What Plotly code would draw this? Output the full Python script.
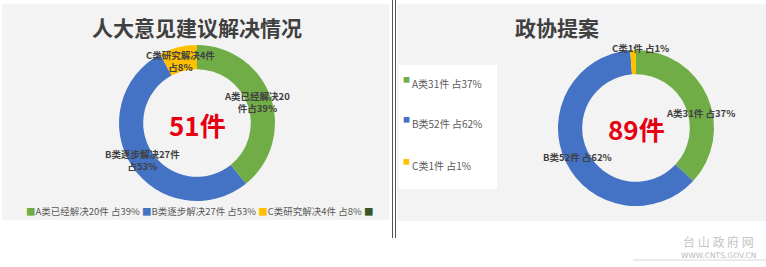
import plotly.graph_objects as go

W, H = 766, 267

# ---------------- data ----------------
left_title = "人大意见建议解决情况"
left_cats = ["A类已经解决", "B类逐步解决", "C类研究解决"]
left_counts = [20, 27, 4]
left_pcts = [39, 53, 8]
left_total = 51
left_slice_text = ["A类已经解决20<br>件占39%", "B类逐步解决27件<br>占53%", "C类研究解决4件<br>占8%"]

right_title = "政协提案"
right_cats = ["A类", "B类", "C类"]
right_counts = [31, 52, 1]
right_pcts = [37, 62, 1]
right_total = 89

colors = ["#70AD47", "#4472C4", "#FFC000"]
extra_legend_color = "#375623"

FONT = "Noto Sans CJK SC"


def px(x):
    return x / W


def py(y):
    return 1 - y / H


fig = go.Figure()

# Left donut
fig.add_trace(go.Pie(
    labels=left_cats, values=left_counts, sort=False, direction="clockwise",
    rotation=0, hole=0.69, textinfo="none", showlegend=False,
    marker=dict(colors=colors, line=dict(width=0)),
    domain=dict(x=[px(119), px(275)], y=[py(201), py(45)]),
))

# Right donut
fig.add_trace(go.Pie(
    labels=right_cats, values=right_counts, sort=False, direction="clockwise",
    rotation=0, hole=0.69, textinfo="none", showlegend=False,
    marker=dict(colors=colors, line=dict(width=0)),
    domain=dict(x=[px(558), px(714)], y=[py(206), py(50)]),
))

shapes = [
    # panel backgrounds
    dict(type="rect", xref="paper", yref="paper", x0=px(2), x1=px(389), y0=py(220), y1=py(4),
         fillcolor="#f3f3f3", line=dict(width=0), layer="below"),
    dict(type="rect", xref="paper", yref="paper", x0=px(397), x1=px(766), y0=py(221), y1=py(4),
         fillcolor="#f3f3f3", line=dict(width=0), layer="below"),
    # right legend box
    dict(type="rect", xref="paper", yref="paper", x0=px(399), x1=px(497), y0=py(189), y1=py(65),
         fillcolor="#ffffff", line=dict(width=0), layer="below"),
    # double divider
    dict(type="line", xref="paper", yref="paper", x0=px(392.5), x1=px(392.5), y0=py(238), y1=py(0),
         line=dict(color="#555555", width=1)),
    dict(type="line", xref="paper", yref="paper", x0=px(395.5), x1=px(395.5), y0=py(238), y1=py(0),
         line=dict(color="#555555", width=1)),
    # watermark underline
    dict(type="line", xref="paper", yref="paper", x0=px(633), x1=px(766), y0=py(260), y1=py(260),
         line=dict(color="#d8d8d8", width=1)),
]

ann = []


def add(text, x, y, size, color, xanchor="center", family=FONT, align="center"):
    ann.append(dict(text=text, x=px(x), y=py(y), xref="paper", yref="paper",
                    xanchor=xanchor, yanchor="middle", showarrow=False, align=align,
                    font=dict(family=family, size=size, color=color)))


# titles
add(f"<b>{left_title}</b>", 197, 27, 21, "#404040")
add(f"<b>{right_title}</b>", 557, 27, 21, "#404040")
# centre totals
add(f"<b>{left_total}件</b>", 197, 124, 26, "#E60012")
add(f"<b>{right_total}件</b>", 636, 128, 26, "#E60012")

# left data labels
left_label_pos = [(257, 102), (142, 160), (180, 61)]
for t, (lx, ly) in zip(left_slice_text, left_label_pos):
    add(f"<b>{t}</b>", lx, ly, 9.5, "#404040")

# right data labels
right_label_pos = [(700, 113), (577, 157), (640, 48)]
for c, n, p, (lx, ly) in zip(right_cats, right_counts, right_pcts, right_label_pos):
    add(f"<b>{c}{n}件 占{p}%</b>", lx, ly, 9.5, "#404040")

# left legend (horizontal, bottom)
parts = []
for c, n, p, col in zip(left_cats, left_counts, left_pcts, colors):
    parts.append(f"<span style='color:{col}'>■</span>{c}{n}件 占{p}%")
parts.append(f"<span style='color:{extra_legend_color}'>■</span>")
add(" ".join(parts), 24, 211, 9.5, "#595959", xanchor="left")

# right legend (vertical)
right_leg_y = [83, 123, 165]
for c, n, p, col, ly in zip(right_cats, right_counts, right_pcts, colors, right_leg_y):
    add(f"{c}{n}件 占{p}%", 410, ly, 10, "#595959", xanchor="left")
    add("■", 406, ly - 4, 7, col)

# watermark
add("台 山 政 府 网", 718, 241, 12, "#c4c4c4")
add("WWW.CNTS.GOV.CN", 718, 255, 7.5, "#b8b8b8", family="DejaVu Sans")

fig.update_layout(
    width=W, height=H, margin=dict(l=0, r=0, t=0, b=0),
    paper_bgcolor="#ffffff", plot_bgcolor="#ffffff",
    shapes=shapes, annotations=ann, showlegend=False,
    font=dict(family=FONT),
)

fig.write_html("out.html")
